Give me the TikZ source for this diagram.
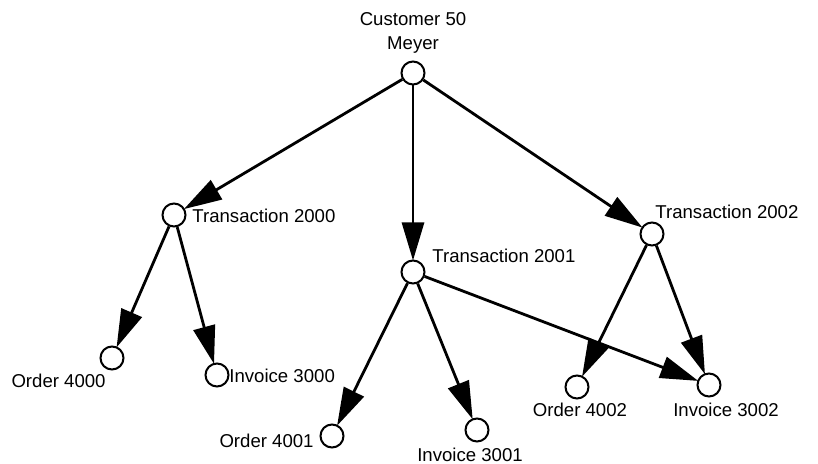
\documentclass[tikz,border=0pt]{standalone}
\usepackage{fontspec}
\setmainfont{Liberation Sans}
\usetikzlibrary{arrows.meta}
\begin{document}
\begin{tikzpicture}[x=0.5pt,y=-0.5pt,
  vert/.style={circle,draw,line width=1pt,minimum size=11.5pt,inner sep=0pt,fill=white},
  lbl/.style={font=\fontsize{9.3}{11}\selectfont,inner sep=0pt},
  rel/.style={line width=1.4pt,-{Triangle[length=19pt,width=11pt]},shorten >=-0.5pt}]
\useasboundingbox (0,0) rectangle (818,464);
% vertices
\node[vert] (c50)  at (413,73)  {};
\node[vert] (t0)   at (174,215) {};
\node[vert] (t1)   at (413,272) {};
\node[vert] (t2)   at (652,234) {};
\node[vert] (o0)   at (112,358) {};
\node[vert] (i0)   at (217,375) {};
\node[vert] (o1)   at (332,436) {};
\node[vert] (i1)   at (477,430) {};
\node[vert] (o2)   at (577,387) {};
\node[vert] (i2)   at (709,385) {};
% labels
\node[lbl] (lc1) at (413,19) {Customer 50};
\node[lbl] (lc2) at (413,45) {Meyer};
\node[lbl,anchor=west] (lt0) at (192,216) {Transaction 2000};
\node[lbl,anchor=west] (lt1) at (432,256) {Transaction 2001};
\node[lbl,anchor=west] (lt2) at (655,212) {Transaction 2002};
\node[lbl,anchor=east] (lo0) at (106,381) {Order 4000};
\node[lbl,anchor=west] (li0) at (229,376) {Invoice 3000};
\node[lbl,anchor=east] (lo1) at (314,441) {Order 4001};
\node[lbl] (li1) at (470,455) {Invoice 3001};
\node[lbl] (lo2) at (580,410) {Order 4002};
\node[lbl] (li2) at (726,410) {Invoice 3002};
% relations
\draw[rel] (c50) -- (t0);
\draw[rel] (c50) -- (t1);
\draw[rel] (c50) -- (t2);
\draw[rel] (t0) -- (o0);
\draw[rel] (t0) -- (i0);
\draw[rel] (t1) -- (o1);
\draw[rel] (t1) -- (i1);
\draw[rel] (t1) -- (i2);
\draw[rel] (t2) -- (o2);
\draw[rel] (t2) -- (i2);
\end{tikzpicture}
\end{document}
